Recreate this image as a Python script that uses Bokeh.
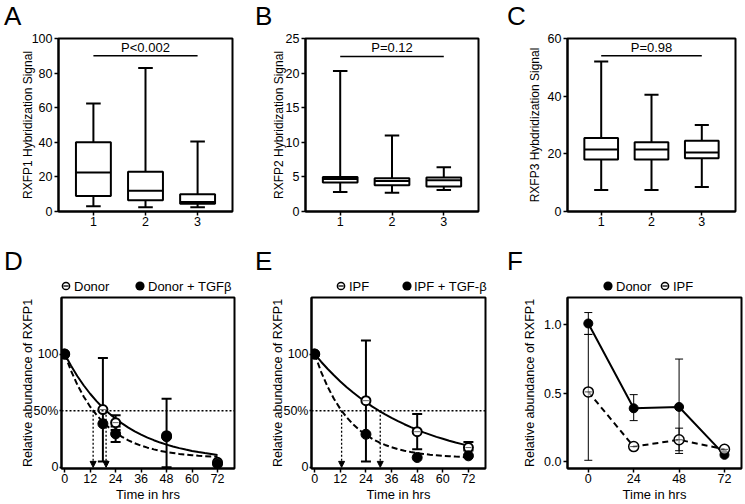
from bokeh.plotting import figure
from bokeh.models import (Range1d, FixedTicker, Arrow, NormalHead, ColumnDataSource, Span, Div)
from bokeh.layouts import column, row
from bokeh.embed import file_html
from bokeh.resources import INLINE
from bokeh.core.properties import value

FONT = "Liberation Sans"

# ---------------- Box plot data (A, B, C) ----------------
groups = [1, 2, 3]

a_low = [3.0, 2.5, 2.5]
a_q1 = [9.0, 6.5, 4.5]
a_med = [22.5, 12.0, 5.5]
a_q3 = [40.0, 23.0, 10.0]
a_high = [62.5, 83.0, 40.5]
a_ticks = [0, 20, 40, 60, 80, 100]
a_pval = "P<0.002"
a_bracket = 90.0

b_low = [2.8, 2.7, 3.1]
b_q1 = [4.2, 3.8, 3.6]
b_med = [4.7, 4.4, 4.5]
b_q3 = [5.0, 4.8, 4.9]
b_high = [20.3, 11.0, 6.4]
b_ticks = [0, 5, 10, 15, 20, 25]
b_pval = "P=0.12"
b_bracket = 22.4

c_low = [7.5, 7.5, 8.5]
c_q1 = [18.0, 18.0, 18.5]
c_med = [21.5, 21.5, 20.5]
c_q3 = [25.5, 24.0, 24.5]
c_high = [52.0, 40.5, 30.0]
c_ticks = [0, 20, 40, 60]
c_pval = "P=0.98"
c_bracket = 54.0

# ---------------- Decay data (D, E) ----------------
time_ticks = [0, 12, 24, 36, 48, 60, 72]
pct_ticks = [0, 50, 100]
half_level = 50

# D: Donor (open) and Donor + TGFb (filled)
d_open_t = [0, 18, 24, 48, 72]
d_open_v = [100, 51, 39.5, 28, 4.5]
d_open_lo = [None, 5.2, 33, None, None]
d_open_hi = [None, 96.5, 46, None, None]
d_fill_t = [0, 18, 24, 48, 72]
d_fill_v = [100, 38.5, 29.6, 27, 3]
d_fill_lo = [None, None, 22.5, 0, None]
d_fill_hi = [None, None, 36, 60.5, None]
d_half = [13.4, 19.5]

curve_t = [0, 3, 6, 9, 12, 15, 18, 21, 24, 27, 30, 33, 36, 39, 42, 45, 48,
           51, 54, 57, 60, 63, 66, 69, 72]
d_fit_open = [100, 89.7, 80.5, 72.3, 65.0, 58.5, 52.7, 47.5, 42.9, 38.8, 35.1,
              31.8, 28.9, 26.3, 24.0, 21.9, 20.1, 18.5, 17.0, 15.7, 14.5, 13.5,
              12.6, 11.8, 11.0]
d_fit_fill = [100, 85.2, 72.8, 62.4, 53.6, 46.3, 40.1, 34.9, 30.6, 27.0, 23.9,
              21.3, 19.2, 17.4, 15.9, 14.6, 13.5, 12.7, 11.9, 11.3, 10.8, 10.3,
              9.9, 9.6, 9.4]

# E: IPF (open) and IPF + TGF-b (filled)
e_open_t = [0, 24, 48, 72]
e_open_v = [100, 58.9, 31.5, 17.5]
e_open_lo = [None, 5.2, 16, 15]
e_open_hi = [None, 112, 47.2, 22.5]
e_fill_t = [0, 24, 48, 72]
e_fill_v = [100, 29.2, 8.7, 10.2]
e_half = [12.6, 30.7]
e_fit_open = [100, 93.3, 87.1, 81.3, 75.9, 70.8, 66.1, 61.7, 57.6, 53.7, 50.2,
              46.8, 43.7, 40.8, 38.1, 35.5, 33.2, 30.9, 28.9, 26.9, 25.2, 23.5,
              21.9, 20.5, 19.1]
e_fit_fill = [100, 84.4, 71.4, 60.6, 51.6, 44.2, 38.0, 32.9, 28.7, 25.1, 22.2,
              19.8, 17.8, 16.1, 14.7, 13.6, 12.6, 11.9, 11.2, 10.7, 10.2, 9.8,
              9.5, 9.3, 9.0]

# F: Donor (filled, solid) and IPF (open, dashed)
f_t = [0, 24, 48, 72]
f_ticks_x = [0, 24, 48, 72]
f_ticks_y = [0.0, 0.5, 1.0]
f_donor = [1.01, 0.39, 0.40, 0.05]
f_donor_lo = [0.93, 0.30, 0.06, None]
f_donor_hi = [1.09, 0.49, 0.75, None]
f_ipf = [0.51, 0.11, 0.16, 0.09]
f_ipf_lo = [0.01, None, 0.08, None]
f_ipf_hi = [0.93, None, 0.245, None]

# legend texts
d_legend = ["Donor", "Donor + TGFβ"]
e_legend = ["IPF", "IPF + TGF-β"]
f_legend = ["Donor", "IPF"]


def style(p, x_ticks, y_ticks, ylab_standoff, xlabel=None):
    p.outline_line_color = "black"
    p.outline_line_width = 2
    p.outline_line_alpha = 1
    p.xgrid.visible = False
    p.ygrid.visible = False
    p.xaxis.ticker = FixedTicker(ticks=x_ticks)
    p.yaxis.ticker = FixedTicker(ticks=y_ticks)
    for ax in (p.xaxis[0], p.yaxis[0]):
        ax.axis_line_width = 2
        ax.axis_line_color = "black"
        ax.major_tick_line_width = 1.5
        ax.major_tick_line_color = "black"
        ax.major_tick_out = 4
        ax.major_tick_in = 0
        ax.minor_tick_line_color = None
        ax.major_label_text_font = FONT
        ax.major_label_text_font_size = "12.5px"
        ax.major_label_text_color = "black"
        ax.axis_label_text_font = FONT
        ax.axis_label_text_font_style = "normal"
        ax.axis_label_text_font_size = "12px"
        ax.axis_label_text_color = "black"
    p.xaxis.major_label_standoff = 1
    p.yaxis.major_label_standoff = 2
    p.yaxis[0].axis_label_standoff = ylab_standoff
    p.xaxis.axis_label_standoff = 1
    if xlabel:
        p.xaxis.axis_label = xlabel
        p.xaxis.axis_label_text_font_size = "13px"


def header(width, height, letter_txt, lx, lbase, items=None, ly=0):
    """Strip above a panel: the panel letter and (optionally) the legend."""
    parts = ['<svg xmlns="http://www.w3.org/2000/svg" width="%d" height="%d" '
             'style="display:block">' % (width, height)]
    parts.append('<text x="%s" y="%s" font-family="%s" font-size="26" '
                 'fill="black">%s</text>' % (lx, lbase, FONT, letter_txt))
    for kind, mx, tx, label in (items or []):
        if kind == "open":
            parts.append('<circle cx="%s" cy="%s" r="3.6" fill="white" stroke="black" '
                         'stroke-width="1.5"/>' % (mx, ly))
            parts.append('<line x1="%s" y1="%s" x2="%s" y2="%s" stroke="black" '
                         'stroke-width="1.3"/>' % (mx - 2.6, ly, mx + 2.6, ly))
        else:
            parts.append('<circle cx="%s" cy="%s" r="4.6" fill="black"/>' % (mx, ly))
        parts.append('<text x="%s" y="%s" dominant-baseline="central" font-family="%s" '
                     'font-size="13" fill="black">%s</text>' % (tx, ly, FONT, label))
    parts.append('</svg>')
    return Div(text="".join(parts), width=width, height=height, margin=(0, 0, 0, 0))


def boxplot(width, bl, br, low, q1, med, q3, high, ymax, ticks, ylabel, pval,
            bracket, lab_st):
    p = figure(width=width, height=214, output_backend="svg", toolbar_location=None,
               x_range=Range1d(0.33, 3.67), y_range=Range1d(0, ymax),
               min_border_left=bl, min_border_right=br, min_border_top=6,
               min_border_bottom=35)
    style(p, groups, ticks, lab_st)
    p.yaxis.axis_label = ylabel
    bw = 0.67
    cw = 0.28
    p.segment(x0=groups, x1=groups, y0=low, y1=q1, line_color="black", line_width=2)
    p.segment(x0=groups, x1=groups, y0=q3, y1=high, line_color="black", line_width=2)
    p.segment(x0=[g - cw / 2 for g in groups], x1=[g + cw / 2 for g in groups],
              y0=low, y1=low, line_color="black", line_width=2)
    p.segment(x0=[g - cw / 2 for g in groups], x1=[g + cw / 2 for g in groups],
              y0=high, y1=high, line_color="black", line_width=2)
    p.vbar(x=groups, width=bw, bottom=q1, top=q3, fill_color="white",
           line_color="black", line_width=2)
    p.segment(x0=[g - bw / 2 for g in groups], x1=[g + bw / 2 for g in groups],
              y0=med, y1=med, line_color="black", line_width=2)
    p.segment(x0=[groups[0]], x1=[groups[-1]], y0=[bracket], y1=[bracket],
              line_color="black", line_width=1.5)
    p.text(x=[groups[1]], y=[bracket], text=[pval], text_align="center",
           text_baseline="bottom", y_offset=-1, text_font=value(FONT),
           text_font_size="13px", text_color="black")
    return p


def errorbars(p, t, lo, hi, lw, cap):
    idx = [i for i in range(len(t)) if lo[i] is not None]
    xs = [t[i] for i in idx]
    los = [lo[i] for i in idx]
    his = [hi[i] for i in idx]
    p.segment(x0=xs, x1=xs, y0=los, y1=his, line_color="black", line_width=lw)
    p.scatter(x=xs + xs, y=los + his, marker="dash", size=cap,
              line_color="black", line_width=lw)


def decay(width, bl, br, o_t, o_v, o_lo, o_hi, f_t_, f_v, f_lo, f_hi,
          fit_o, fit_f, halves, lab_st):
    p = figure(width=width, height=210, output_backend="svg", toolbar_location=None,
               x_range=Range1d(-1.5, 80), y_range=Range1d(-1, 150),
               min_border_left=bl, min_border_right=br, min_border_top=3,
               min_border_bottom=34)
    style(p, time_ticks, pct_ticks, lab_st, "Time in hrs")
    p.yaxis.major_label_overrides = {50: "50%"}
    p.yaxis.major_tick_out = 2
    p.yaxis.major_label_standoff = 1
    p.yaxis.axis_label = "Relative abundance of RXFP1"
    p.yaxis.axis_label_text_font_size = "12.5px"
    p.add_layout(Span(location=half_level, dimension="width", line_color="black",
                      line_dash="2 2", line_width=1.3))
    src = ColumnDataSource(dict(x=halves, y0=[half_level] * len(halves),
                                y1=[0] * len(halves)))
    p.add_layout(Arrow(source=src, x_start="x", y_start="y0", x_end="x", y_end="y1",
                       line_color="black", line_dash="2 2", line_width=1.3,
                       end=NormalHead(size=6, fill_color="black", line_color="black")))
    p.line(curve_t, fit_o, line_color="black", line_width=2)
    p.line(curve_t, fit_f, line_color="black", line_width=2, line_dash="6 3")
    errorbars(p, o_t, o_lo, o_hi, 2, 10)
    if f_lo is not None:
        errorbars(p, f_t_, f_lo, f_hi, 2, 10)
    p.scatter(o_t, o_v, size=9, marker="circle", fill_color="white",
              line_color="black", line_width=2)
    p.scatter(o_t, o_v, size=6, marker="dash", line_color="black",
              line_width=1, line_alpha=0.6)
    p.scatter(f_t_, f_v, size=10, marker="circle", fill_color="black",
              line_color="black")
    return p


# ---------- row 1 ----------
pA = boxplot(250, 58, 18, a_low, a_q1, a_med, a_q3, a_high, 100, a_ticks,
             "RXFP1 Hybridization Signal", a_pval, a_bracket, -6)
pB = boxplot(250, 55, 22, b_low, b_q1, b_med, b_q3, b_high, 25, b_ticks,
             "RXFP2 Hybridization Signal", b_pval, b_bracket, -3)
pC = boxplot(244, 67, 9, c_low, c_q1, c_med, c_q3, c_high, 60, c_ticks,
             "RXFP3 Hybdridization Signal", c_pval, c_bracket, 3)
hA = header(250, 32, "A", 4, 25)
hB = header(250, 32, "B", 5, 25)
hC = header(244, 32, "C", 7, 25)

# ---------- row 2 ----------
pD = decay(250, 61, 16, d_open_t, d_open_v, d_open_lo, d_open_hi,
           d_fill_t, d_fill_v, d_fill_lo, d_fill_hi, d_fit_open, d_fit_fill,
           d_half, -5)
pE = decay(250, 61, 15, e_open_t, e_open_v, e_open_lo, e_open_hi,
           e_fill_t, e_fill_v, None, None, e_fit_open, e_fit_fill,
           e_half, -5)

pF = figure(width=244, height=210, output_backend="svg", toolbar_location=None,
            x_range=Range1d(-11, 81), y_range=Range1d(-0.05, 1.2),
            min_border_left=67, min_border_right=3, min_border_top=3,
            min_border_bottom=34)
style(pF, f_ticks_x, f_ticks_y, 4, "Time in hrs")
pF.yaxis.major_label_overrides = {0: "0.0", 0.5: "0.5", 1: "1.0"}
pF.yaxis.axis_label = "Relative abundance of RXFP1"
pF.yaxis.axis_label_text_font_size = "12.5px"
pF.line(f_t, f_donor, line_color="black", line_width=2)
pF.line(f_t, f_ipf, line_color="black", line_width=2, line_dash="6 4")
errorbars(pF, f_t, f_donor_lo, f_donor_hi, 1, 8)
errorbars(pF, f_t, f_ipf_lo, f_ipf_hi, 1, 8)
pF.scatter(f_t, f_donor, size=9, marker="circle", fill_color="black",
           line_color="black")
pF.scatter(f_t, f_ipf, size=10, marker="circle", fill_color="white",
           fill_alpha=0.6, line_color="black", line_width=1.5)
pF.scatter(f_t, f_ipf, size=7, marker="dash", line_color="black",
           line_width=1, line_alpha=0.7)

hD = header(250, 48, "D", 4, 24, [("open", 66, 74, d_legend[0]),
                                  ("fill", 140, 148, d_legend[1])], 40)
hE = header(250, 48, "E", 5, 24, [("open", 91, 99, e_legend[0]),
                                  ("fill", 157, 164, e_legend[1])], 40)
hF = header(244, 48, "F", 7, 24, [("fill", 108, 116, f_legend[0]),
                                  ("open", 165, 173, f_legend[1])], 40)

layout = column(row(column(hA, pA), column(hB, pB), column(hC, pC)),
                row(column(hD, pD), column(hE, pE), column(hF, pF)))

with open("out.html", "w") as fh:
    fh.write(file_html(layout, INLINE))
